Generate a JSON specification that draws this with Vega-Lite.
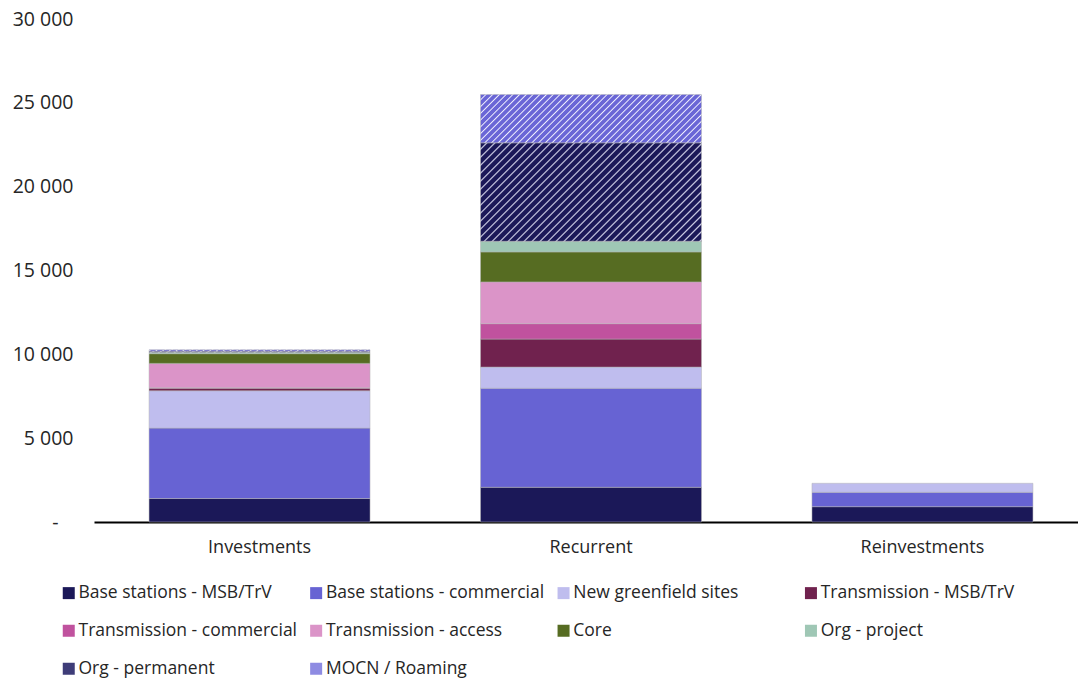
{
  "$schema": "https://vega.github.io/schema/vega-lite/v6.json",
  "width": 984,
  "height": 503,
  "autosize": "none",
  "padding": {"left": 94, "top": 19, "right": 0, "bottom": 158},
  "background": "white",
  "config": {"font": "Open Sans", "view": {"stroke": null}},
  "datasets": {
    "rows": [
      {"g": "Investments", "c": "Base stations - MSB/TrV", "v": 1400},
      {"g": "Investments", "c": "Base stations - commercial", "v": 4200},
      {"g": "Investments", "c": "New greenfield sites", "v": 2230},
      {"g": "Investments", "c": "Transmission - MSB/TrV", "v": 150},
      {"g": "Investments", "c": "Transmission - commercial", "v": 30},
      {"g": "Investments", "c": "Transmission - access", "v": 1450},
      {"g": "Investments", "c": "Core", "v": 580},
      {"g": "Investments", "c": "Org - project", "v": 90},
      {"g": "Investments", "c": "Org - permanent", "v": 60},
      {"g": "Investments", "c": "MOCN / Roaming", "v": 80},
      {"g": "Recurrent", "c": "Base stations - MSB/TrV", "v": 2070},
      {"g": "Recurrent", "c": "Base stations - commercial", "v": 5910},
      {"g": "Recurrent", "c": "New greenfield sites", "v": 1260},
      {"g": "Recurrent", "c": "Transmission - MSB/TrV", "v": 1670},
      {"g": "Recurrent", "c": "Transmission - commercial", "v": 920},
      {"g": "Recurrent", "c": "Transmission - access", "v": 2490},
      {"g": "Recurrent", "c": "Core", "v": 1790},
      {"g": "Recurrent", "c": "Org - project", "v": 635},
      {"g": "Recurrent", "c": "Org - permanent", "v": 5870},
      {"g": "Recurrent", "c": "MOCN / Roaming", "v": 2880},
      {"g": "Reinvestments", "c": "Base stations - MSB/TrV", "v": 915},
      {"g": "Reinvestments", "c": "Base stations - commercial", "v": 855},
      {"g": "Reinvestments", "c": "New greenfield sites", "v": 540}
    ],
    "cats": [
      {"c": "Base stations - MSB/TrV", "k": 1},
      {"c": "Base stations - commercial", "k": 2},
      {"c": "New greenfield sites", "k": 3},
      {"c": "Transmission - MSB/TrV", "k": 4},
      {"c": "Transmission - commercial", "k": 5},
      {"c": "Transmission - access", "k": 6},
      {"c": "Core", "k": 7},
      {"c": "Org - project", "k": 8},
      {"c": "Org - permanent", "k": 9},
      {"c": "MOCN / Roaming", "k": 10}
    ]
  },
  "data": {"name": "rows"},
  "transform": [
    {"lookup": "c", "from": {"data": {"name": "cats"}, "key": "c", "fields": ["k"]}}
  ],
  "mark": {"type": "bar", "stroke": "#b4b4b4", "strokeWidth": 0.5},
  "encoding": {
    "x": {
      "field": "g", "type": "nominal",
      "sort": ["Investments", "Recurrent", "Reinvestments"],
      "scale": {"paddingInner": 0.3333, "paddingOuter": 0.151, "align": 0.55},
      "axis": {"title": null, "labelAngle": 0, "ticks": false, "domainColor": "#000000", "domainWidth": 2, "labelFontSize": 18, "labelColor": "#262626", "labelPadding": 16}
    },
    "y": {
      "field": "v", "type": "quantitative", "stack": "zero",
      "scale": {"domain": [0, 30000], "nice": false},
      "axis": {"title": null, "values": [0, 5000, 10000, 15000, 20000, 25000, 30000], "grid": false, "domain": false, "ticks": false, "labelFontSize": 19.5, "labelColor": "#262626", "labelPadding": 21,
        "labelExpr": "datum.value == 0 ? '-\u2800' : replace(format(datum.value, ','), ',', ' ')"}
    },
    "order": {"field": "k", "type": "quantitative", "sort": "ascending"},
    "fill": {
      "condition": [
        {"test": "datum.c === 'Org - permanent'", "value": {"gradient": "linear", "x1": 0, "y1": 0, "x2": 1.206, "y2": 0.537, "stops": [
            {"offset": 0, "color": "#1b1858"}, {"offset": 0.015, "color": "#1b1858"}, {"offset": 0.02, "color": "#d6d6ec"},
            {"offset": 0.025, "color": "#1b1858"}, {"offset": 0.04, "color": "#1b1858"}, {"offset": 0.045, "color": "#d6d6ec"},
            {"offset": 0.05, "color": "#1b1858"}, {"offset": 0.065, "color": "#1b1858"}, {"offset": 0.07, "color": "#d6d6ec"},
            {"offset": 0.075, "color": "#1b1858"}, {"offset": 0.09, "color": "#1b1858"}, {"offset": 0.095, "color": "#d6d6ec"},
            {"offset": 0.1, "color": "#1b1858"}, {"offset": 0.115, "color": "#1b1858"}, {"offset": 0.12, "color": "#d6d6ec"},
            {"offset": 0.125, "color": "#1b1858"}, {"offset": 0.14, "color": "#1b1858"}, {"offset": 0.145, "color": "#d6d6ec"},
            {"offset": 0.15, "color": "#1b1858"}, {"offset": 0.165, "color": "#1b1858"}, {"offset": 0.17, "color": "#d6d6ec"},
            {"offset": 0.175, "color": "#1b1858"}, {"offset": 0.19, "color": "#1b1858"}, {"offset": 0.195, "color": "#d6d6ec"},
            {"offset": 0.2, "color": "#1b1858"}, {"offset": 0.215, "color": "#1b1858"}, {"offset": 0.22, "color": "#d6d6ec"},
            {"offset": 0.225, "color": "#1b1858"}, {"offset": 0.24, "color": "#1b1858"}, {"offset": 0.245, "color": "#d6d6ec"},
            {"offset": 0.25, "color": "#1b1858"}, {"offset": 0.265, "color": "#1b1858"}, {"offset": 0.27, "color": "#d6d6ec"},
            {"offset": 0.275, "color": "#1b1858"}, {"offset": 0.29, "color": "#1b1858"}, {"offset": 0.295, "color": "#d6d6ec"},
            {"offset": 0.3, "color": "#1b1858"}, {"offset": 0.315, "color": "#1b1858"}, {"offset": 0.32, "color": "#d6d6ec"},
            {"offset": 0.325, "color": "#1b1858"}, {"offset": 0.34, "color": "#1b1858"}, {"offset": 0.345, "color": "#d6d6ec"},
            {"offset": 0.35, "color": "#1b1858"}, {"offset": 0.365, "color": "#1b1858"}, {"offset": 0.37, "color": "#d6d6ec"},
            {"offset": 0.375, "color": "#1b1858"}, {"offset": 0.39, "color": "#1b1858"}, {"offset": 0.395, "color": "#d6d6ec"},
            {"offset": 0.4, "color": "#1b1858"}, {"offset": 0.415, "color": "#1b1858"}, {"offset": 0.42, "color": "#d6d6ec"},
            {"offset": 0.425, "color": "#1b1858"}, {"offset": 0.44, "color": "#1b1858"}, {"offset": 0.445, "color": "#d6d6ec"},
            {"offset": 0.45, "color": "#1b1858"}, {"offset": 0.465, "color": "#1b1858"}, {"offset": 0.47, "color": "#d6d6ec"},
            {"offset": 0.475, "color": "#1b1858"}, {"offset": 0.49, "color": "#1b1858"}, {"offset": 0.495, "color": "#d6d6ec"},
            {"offset": 0.5, "color": "#1b1858"}, {"offset": 0.515, "color": "#1b1858"}, {"offset": 0.52, "color": "#d6d6ec"},
            {"offset": 0.525, "color": "#1b1858"}, {"offset": 0.54, "color": "#1b1858"}, {"offset": 0.545, "color": "#d6d6ec"},
            {"offset": 0.55, "color": "#1b1858"}, {"offset": 0.565, "color": "#1b1858"}, {"offset": 0.57, "color": "#d6d6ec"},
            {"offset": 0.575, "color": "#1b1858"}, {"offset": 0.59, "color": "#1b1858"}, {"offset": 0.595, "color": "#d6d6ec"},
            {"offset": 0.6, "color": "#1b1858"}, {"offset": 0.615, "color": "#1b1858"}, {"offset": 0.62, "color": "#d6d6ec"},
            {"offset": 0.625, "color": "#1b1858"}, {"offset": 0.64, "color": "#1b1858"}, {"offset": 0.645, "color": "#d6d6ec"},
            {"offset": 0.65, "color": "#1b1858"}, {"offset": 0.665, "color": "#1b1858"}, {"offset": 0.67, "color": "#d6d6ec"},
            {"offset": 0.675, "color": "#1b1858"}, {"offset": 0.69, "color": "#1b1858"}, {"offset": 0.695, "color": "#d6d6ec"},
            {"offset": 0.7, "color": "#1b1858"}, {"offset": 0.715, "color": "#1b1858"}, {"offset": 0.72, "color": "#d6d6ec"},
            {"offset": 0.725, "color": "#1b1858"}, {"offset": 0.74, "color": "#1b1858"}, {"offset": 0.745, "color": "#d6d6ec"},
            {"offset": 0.75, "color": "#1b1858"}, {"offset": 0.765, "color": "#1b1858"}, {"offset": 0.77, "color": "#d6d6ec"},
            {"offset": 0.775, "color": "#1b1858"}, {"offset": 0.79, "color": "#1b1858"}, {"offset": 0.795, "color": "#d6d6ec"},
            {"offset": 0.8, "color": "#1b1858"}, {"offset": 0.815, "color": "#1b1858"}, {"offset": 0.82, "color": "#d6d6ec"},
            {"offset": 0.825, "color": "#1b1858"}, {"offset": 0.84, "color": "#1b1858"}, {"offset": 0.845, "color": "#d6d6ec"},
            {"offset": 0.85, "color": "#1b1858"}, {"offset": 0.865, "color": "#1b1858"}, {"offset": 0.87, "color": "#d6d6ec"},
            {"offset": 0.875, "color": "#1b1858"}, {"offset": 0.89, "color": "#1b1858"}, {"offset": 0.895, "color": "#d6d6ec"},
            {"offset": 0.9, "color": "#1b1858"}, {"offset": 0.915, "color": "#1b1858"}, {"offset": 0.92, "color": "#d6d6ec"},
            {"offset": 0.925, "color": "#1b1858"}, {"offset": 0.94, "color": "#1b1858"}, {"offset": 0.945, "color": "#d6d6ec"},
            {"offset": 0.95, "color": "#1b1858"}, {"offset": 0.965, "color": "#1b1858"}, {"offset": 0.97, "color": "#d6d6ec"},
            {"offset": 0.975, "color": "#1b1858"}, {"offset": 0.99, "color": "#1b1858"}, {"offset": 0.995, "color": "#d6d6ec"},
            {"offset": 1, "color": "#1b1858"}
          ]}},
        {"test": "datum.c === 'MOCN / Roaming'", "value": {"gradient": "linear", "x1": 0, "y1": 0, "x2": 1.163, "y2": 0.254, "stops": [
            {"offset": 0, "color": "#6a66d6"}, {"offset": 0.015, "color": "#6a66d6"}, {"offset": 0.02, "color": "#f2f2ff"},
            {"offset": 0.025, "color": "#6a66d6"}, {"offset": 0.04, "color": "#6a66d6"}, {"offset": 0.045, "color": "#f2f2ff"},
            {"offset": 0.05, "color": "#6a66d6"}, {"offset": 0.065, "color": "#6a66d6"}, {"offset": 0.07, "color": "#f2f2ff"},
            {"offset": 0.075, "color": "#6a66d6"}, {"offset": 0.09, "color": "#6a66d6"}, {"offset": 0.095, "color": "#f2f2ff"},
            {"offset": 0.1, "color": "#6a66d6"}, {"offset": 0.115, "color": "#6a66d6"}, {"offset": 0.12, "color": "#f2f2ff"},
            {"offset": 0.125, "color": "#6a66d6"}, {"offset": 0.14, "color": "#6a66d6"}, {"offset": 0.145, "color": "#f2f2ff"},
            {"offset": 0.15, "color": "#6a66d6"}, {"offset": 0.165, "color": "#6a66d6"}, {"offset": 0.17, "color": "#f2f2ff"},
            {"offset": 0.175, "color": "#6a66d6"}, {"offset": 0.19, "color": "#6a66d6"}, {"offset": 0.195, "color": "#f2f2ff"},
            {"offset": 0.2, "color": "#6a66d6"}, {"offset": 0.215, "color": "#6a66d6"}, {"offset": 0.22, "color": "#f2f2ff"},
            {"offset": 0.225, "color": "#6a66d6"}, {"offset": 0.24, "color": "#6a66d6"}, {"offset": 0.245, "color": "#f2f2ff"},
            {"offset": 0.25, "color": "#6a66d6"}, {"offset": 0.265, "color": "#6a66d6"}, {"offset": 0.27, "color": "#f2f2ff"},
            {"offset": 0.275, "color": "#6a66d6"}, {"offset": 0.29, "color": "#6a66d6"}, {"offset": 0.295, "color": "#f2f2ff"},
            {"offset": 0.3, "color": "#6a66d6"}, {"offset": 0.315, "color": "#6a66d6"}, {"offset": 0.32, "color": "#f2f2ff"},
            {"offset": 0.325, "color": "#6a66d6"}, {"offset": 0.34, "color": "#6a66d6"}, {"offset": 0.345, "color": "#f2f2ff"},
            {"offset": 0.35, "color": "#6a66d6"}, {"offset": 0.365, "color": "#6a66d6"}, {"offset": 0.37, "color": "#f2f2ff"},
            {"offset": 0.375, "color": "#6a66d6"}, {"offset": 0.39, "color": "#6a66d6"}, {"offset": 0.395, "color": "#f2f2ff"},
            {"offset": 0.4, "color": "#6a66d6"}, {"offset": 0.415, "color": "#6a66d6"}, {"offset": 0.42, "color": "#f2f2ff"},
            {"offset": 0.425, "color": "#6a66d6"}, {"offset": 0.44, "color": "#6a66d6"}, {"offset": 0.445, "color": "#f2f2ff"},
            {"offset": 0.45, "color": "#6a66d6"}, {"offset": 0.465, "color": "#6a66d6"}, {"offset": 0.47, "color": "#f2f2ff"},
            {"offset": 0.475, "color": "#6a66d6"}, {"offset": 0.49, "color": "#6a66d6"}, {"offset": 0.495, "color": "#f2f2ff"},
            {"offset": 0.5, "color": "#6a66d6"}, {"offset": 0.515, "color": "#6a66d6"}, {"offset": 0.52, "color": "#f2f2ff"},
            {"offset": 0.525, "color": "#6a66d6"}, {"offset": 0.54, "color": "#6a66d6"}, {"offset": 0.545, "color": "#f2f2ff"},
            {"offset": 0.55, "color": "#6a66d6"}, {"offset": 0.565, "color": "#6a66d6"}, {"offset": 0.57, "color": "#f2f2ff"},
            {"offset": 0.575, "color": "#6a66d6"}, {"offset": 0.59, "color": "#6a66d6"}, {"offset": 0.595, "color": "#f2f2ff"},
            {"offset": 0.6, "color": "#6a66d6"}, {"offset": 0.615, "color": "#6a66d6"}, {"offset": 0.62, "color": "#f2f2ff"},
            {"offset": 0.625, "color": "#6a66d6"}, {"offset": 0.64, "color": "#6a66d6"}, {"offset": 0.645, "color": "#f2f2ff"},
            {"offset": 0.65, "color": "#6a66d6"}, {"offset": 0.665, "color": "#6a66d6"}, {"offset": 0.67, "color": "#f2f2ff"},
            {"offset": 0.675, "color": "#6a66d6"}, {"offset": 0.69, "color": "#6a66d6"}, {"offset": 0.695, "color": "#f2f2ff"},
            {"offset": 0.7, "color": "#6a66d6"}, {"offset": 0.715, "color": "#6a66d6"}, {"offset": 0.72, "color": "#f2f2ff"},
            {"offset": 0.725, "color": "#6a66d6"}, {"offset": 0.74, "color": "#6a66d6"}, {"offset": 0.745, "color": "#f2f2ff"},
            {"offset": 0.75, "color": "#6a66d6"}, {"offset": 0.765, "color": "#6a66d6"}, {"offset": 0.77, "color": "#f2f2ff"},
            {"offset": 0.775, "color": "#6a66d6"}, {"offset": 0.79, "color": "#6a66d6"}, {"offset": 0.795, "color": "#f2f2ff"},
            {"offset": 0.8, "color": "#6a66d6"}, {"offset": 0.815, "color": "#6a66d6"}, {"offset": 0.82, "color": "#f2f2ff"},
            {"offset": 0.825, "color": "#6a66d6"}, {"offset": 0.84, "color": "#6a66d6"}, {"offset": 0.845, "color": "#f2f2ff"},
            {"offset": 0.85, "color": "#6a66d6"}, {"offset": 0.865, "color": "#6a66d6"}, {"offset": 0.87, "color": "#f2f2ff"},
            {"offset": 0.875, "color": "#6a66d6"}, {"offset": 0.89, "color": "#6a66d6"}, {"offset": 0.895, "color": "#f2f2ff"},
            {"offset": 0.9, "color": "#6a66d6"}, {"offset": 0.915, "color": "#6a66d6"}, {"offset": 0.92, "color": "#f2f2ff"},
            {"offset": 0.925, "color": "#6a66d6"}, {"offset": 0.94, "color": "#6a66d6"}, {"offset": 0.945, "color": "#f2f2ff"},
            {"offset": 0.95, "color": "#6a66d6"}, {"offset": 0.965, "color": "#6a66d6"}, {"offset": 0.97, "color": "#f2f2ff"},
            {"offset": 0.975, "color": "#6a66d6"}, {"offset": 0.99, "color": "#6a66d6"}, {"offset": 0.995, "color": "#f2f2ff"},
            {"offset": 1, "color": "#6a66d6"}
          ]}}
      ],
      "field": "c", "type": "nominal",
      "scale": {
        "domain": ["Base stations - MSB/TrV", "Base stations - commercial", "New greenfield sites", "Transmission - MSB/TrV", "Transmission - commercial", "Transmission - access", "Core", "Org - project", "Org - permanent", "MOCN / Roaming"],
        "range": ["#1b1858", "#6763d3", "#bfbdee", "#70224e", "#c0529e", "#db94c8", "#566c22", "#9fc7b5", "#3e3c78", "#8e8be2"]
      },
      "legend": {
        "orient": "none", "legendX": -34, "legendY": 565,
        "direction": "horizontal", "columns": 4, "gridAlign": "all",
        "title": null, "symbolType": "square", "symbolSize": 144, "symbolStrokeWidth": 0,
        "labelFontSize": 17.5, "labelColor": "#262626", "labelOffset": 1,
        "columnPadding": 9.4, "rowPadding": 19, "labelLimit": 400, "padding": 0
      }
    }
  }
}
